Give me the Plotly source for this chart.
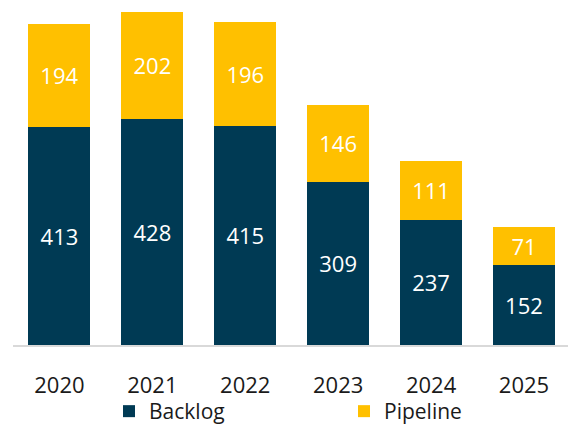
import plotly.graph_objects as go

years = ["2020", "2021", "2022", "2023", "2024", "2025"]
backlog = [413, 428, 415, 309, 237, 152]
pipeline = [194, 202, 196, 146, 111, 71]

navy = "#003A54"
gold = "#FFC000"
font_family = "Open Sans"

fig = go.Figure()
fig.add_trace(go.Bar(
    x=years, y=backlog, name="Backlog", marker=dict(color=navy, line=dict(width=0)),
    text=backlog, textposition="inside", insidetextanchor="middle",
    textfont=dict(color="white", size=22, family=font_family),
    constraintext="none", hoverinfo="skip",
))
fig.add_trace(go.Bar(
    x=years, y=pipeline, name="Pipeline", marker=dict(color=gold, line=dict(width=0)),
    text=pipeline, textposition="inside", insidetextanchor="middle",
    textfont=dict(color="white", size=22, family=font_family),
    constraintext="none", hoverinfo="skip",
))

fig.update_layout(
    width=568, height=425,
    barmode="stack", bargap=0.333,
    margin=dict(l=13, r=0, t=12, b=80, autoexpand=False),
    plot_bgcolor="white", paper_bgcolor="white",
    font=dict(family=font_family, color="#1a1a1a"),
    showlegend=True,
    legend=dict(
        orientation="h", xref="container", yref="container",
        x=109 / 568, xanchor="left", y=1 - 391 / 425, yanchor="top",
        entrywidth=190, entrywidthmode="pixels",
        bgcolor="rgba(0,0,0,0)",
        font=dict(size=21, family=font_family, color="#1a1a1a"),
        traceorder="normal", itemclick=False, itemdoubleclick=False,
    ),
    xaxis=dict(
        range=[-0.5, 5.474], showgrid=False, showline=True, linecolor="#D9D9D9",
        linewidth=2, ticks="", ticklabelstandoff=20, automargin=False,
        tickfont=dict(size=22, family=font_family, color="#1a1a1a"),
        fixedrange=True,
    ),
    yaxis=dict(
        range=[0, 630], visible=False, showgrid=False, zeroline=False, fixedrange=True,
        automargin=False,
    ),
)

fig.write_html("out.html", config={"displayModeBar": False})
